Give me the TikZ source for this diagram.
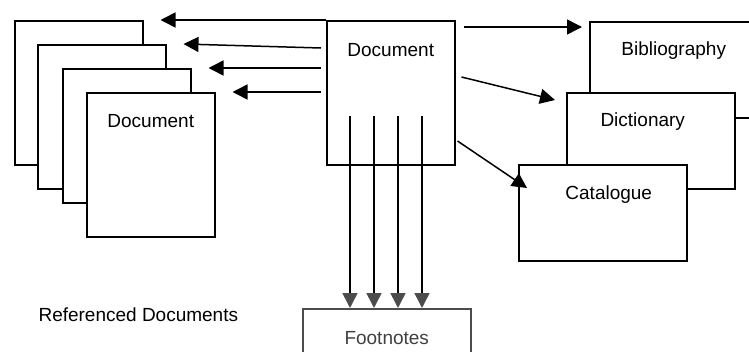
\documentclass[tikz,border=0pt]{standalone}
\usepackage{fontspec}
\setmainfont{Liberation Sans}
\usetikzlibrary{arrows.meta}

\tikzset{
  page/.style={draw,fill=white,line width=1.5pt,anchor=north west,inner sep=0pt,
    minimum width=128pt,minimum height=144pt},
  card/.style={page,minimum width=168pt,minimum height=96pt},
  ttl/.style={font=\fontsize{19}{23}\selectfont},
  ref/.style={-{Triangle[length=15pt,width=15pt]},line width=1.5pt},
}

\begin{document}
\begin{tikzpicture}[x=1pt,y=-1pt]
  \useasboundingbox[fill=white] (0,0) rectangle (749,351);

  % referenced documents, back to front
  \node[page] (d1) at (14,20) {};
  \node[page] (d2) at (37,44) {};
  \node[page,minimum height=134pt] (d3) at (62,68) {};
  \node[page,label={[ttl,anchor=center,yshift=-29pt]90:Document}] (d4) at (86,92) {};

  \node[page,label={[ttl,anchor=center,yshift=-30pt]90:Document}] (C) at (326,20) {};

  % right hand stack
  \node[card,label={[ttl,anchor=center,yshift=-30pt]90:Bibliography}] (bib) at (589,21) {};
  \node[card,label={[ttl,anchor=center,xshift=-8pt,yshift=-30pt]90:Dictionary}] (dic) at (566,92) {};
  \node[card,label={[ttl,anchor=center,xshift=6pt,yshift=-31pt]90:Catalogue}] (cat) at (518,164) {};

  \node[card,draw=black!70,label={[ttl,text=black!75,anchor=center,yshift=-30pt]90:Footnotes}] (foot) at (302,308) {};
  \node[ttl,anchor=west] (refd) at (35,315) {Referenced Documents};

  \draw[ref] (C.north west) -- ([xshift=17pt]d1.north east);
  \draw[ref] ([shift={(-5,28)}]C.north west) -- ([xshift=17pt]d2.north east);
  \draw[ref] ([shift={(-5,48)}]C.north west) -- ([xshift=17pt]d3.north east);
  \draw[ref] ([shift={(-5,72)}]C.north west) -- ([xshift=17pt]d4.north east);

  \draw[ref] ([shift={(8,7)}]C.north east) -- ([shift={(-7,6)}]bib.north west);
  \draw[ref] ([shift={(6,57)}]C.north east) -- ([shift={(-11,8)}]dic.north west);
  \draw[ref] ([shift={(2,121)}]C.north east) -- ([shift={(9,24)}]cat.north west);

  \foreach \dx in {24,48,72,96}{
    \coordinate (fn) at ([shift={(\dx,96)}]C.north west);
    \draw[ref,-{Triangle[length=15pt,width=15pt,color=black!70]}] (fn) -- (fn |- foot.north);
  }
\end{tikzpicture}
\end{document}
